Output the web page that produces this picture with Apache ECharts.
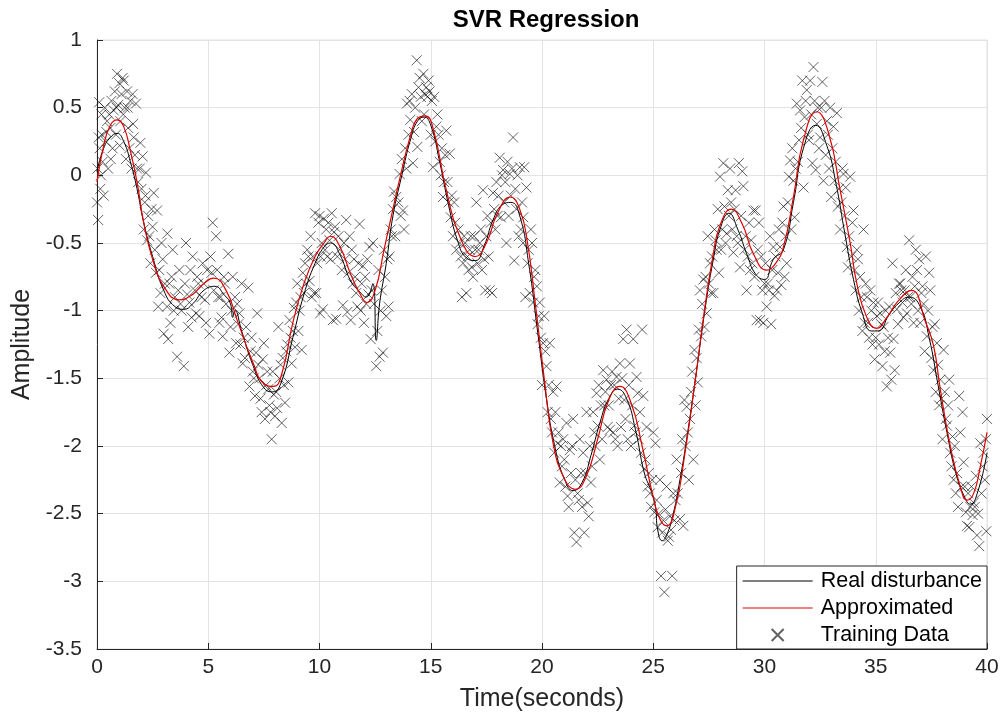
<!DOCTYPE html>
<html>
<head>
<meta charset="utf-8">
<script src="https://cdn.jsdelivr.net/npm/echarts@6/dist/echarts.min.js"></script>
<style>html,body{margin:0;padding:0;background:#fff}#c{width:1003px;height:726px}</style>
</head>
<body>
<div id="c"></div>
<script>
// ---- data ----
const xTicks = [0,5,10,15,20,25,30,35,40];
const yTicks = [-3.5,-3,-2.5,-2,-1.5,-1,-0.5,0,0.5,1];

const realT = [0,0.3,0.6,0.9,1.2,1.5,1.8,2.1,2.5,3.0,3.5,3.9,4.3,4.8,5.3,5.7,6.0,6.1,6.2,6.5,7.0,7.5,7.9,8.3,8.8,9.3,9.8,10.2,10.5,10.9,11.4,11.8,12.1,12.4,12.55,12.7,13.0,13.3,13.7,14.1,14.4,14.7,15.0,15.4,15.8,16.2,16.6,17.0,17.4,17.8,18.2,18.6,19.0,19.4,19.8,20.2,20.6,21.0,21.4,21.8,22.2,22.6,23.0,23.4,23.8,24.2,24.6,24.9,25.1,25.2,25.4,25.6,25.9,26.2,26.5,26.9,27.3,27.7,28.0,28.4,28.8,29.2,29.6,30.0,30.4,30.85,31.3,31.75,32.3,32.8,33.2,33.6,34.0,34.4,34.8,35.1,35.6,36.0,36.5,37.0,37.4,37.8,38.2,38.6,39.0,39.25,39.6,40.0];
const realY = [0.03,0.2,0.28,0.31,0.25,0.1,-0.1,-0.35,-0.6,-0.85,-0.97,-0.99,-0.95,-0.85,-0.82,-0.88,-0.95,-1.05,-1.0,-1.15,-1.4,-1.57,-1.6,-1.52,-1.2,-0.88,-0.65,-0.53,-0.5,-0.58,-0.78,-0.86,-0.9,-0.8,-1.22,-0.95,-0.65,-0.3,0.0,0.27,0.4,0.43,0.37,0.1,-0.22,-0.48,-0.61,-0.63,-0.52,-0.33,-0.22,-0.2,-0.3,-0.65,-1.15,-1.65,-2.02,-2.24,-2.33,-2.27,-2.07,-1.83,-1.65,-1.58,-1.65,-1.88,-2.2,-2.33,-2.45,-2.62,-2.7,-2.66,-2.5,-2.25,-1.95,-1.5,-1.02,-0.62,-0.4,-0.28,-0.4,-0.58,-0.73,-0.77,-0.62,-0.55,-0.2,0.2,0.37,0.22,-0.05,-0.42,-0.77,-1.02,-1.15,-1.15,-1.03,-0.95,-0.9,-0.97,-1.2,-1.55,-1.9,-2.2,-2.38,-2.43,-2.33,-2.05];

const approxT = [0,0.3,0.6,0.9,1.2,1.5,1.8,2.1,2.5,3.0,3.7,4.3,4.8,5.25,5.8,6.3,7.0,7.5,7.93,8.3,8.8,9.3,9.8,10.2,10.5,10.9,11.4,11.8,12.13,12.5,12.9,13.3,13.6,14.1,14.4,14.75,15.1,15.7,16.3,17.0,17.5,18.0,18.57,19.0,19.35,19.7,20.1,20.5,21.0,21.5,22.0,22.5,23.0,23.5,24.0,24.5,25.0,25.3,25.6,26.0,26.4,26.9,27.3,27.7,28.0,28.5,29.0,29.5,30.1,30.5,30.85,31.3,31.75,32.35,32.9,33.4,33.85,34.15,34.6,35.05,35.5,36.0,36.6,37.25,37.6,37.9,38.35,38.8,39.1,39.4,39.7,40.0];
const approxY = [-0.05,0.22,0.37,0.41,0.36,0.18,-0.05,-0.35,-0.62,-0.82,-0.92,-0.88,-0.8,-0.76,-0.85,-1.07,-1.38,-1.54,-1.56,-1.47,-1.09,-0.8,-0.6,-0.5,-0.45,-0.52,-0.73,-0.87,-0.94,-0.85,-0.55,-0.25,-0.03,0.3,0.42,0.44,0.35,-0.11,-0.45,-0.6,-0.5,-0.28,-0.16,-0.25,-0.5,-0.95,-1.5,-1.98,-2.24,-2.32,-2.22,-1.95,-1.66,-1.56,-1.68,-2.0,-2.38,-2.54,-2.59,-2.45,-2.08,-1.5,-1.0,-0.58,-0.37,-0.25,-0.36,-0.58,-0.7,-0.65,-0.53,-0.16,0.26,0.47,0.3,-0.11,-0.5,-0.8,-1.05,-1.13,-1.05,-0.93,-0.85,-1.09,-1.26,-1.58,-2.0,-2.3,-2.4,-2.35,-2.15,-1.9];

const trainT = [0.0,0.02,0.05,0.08,0.1,0.12,0.15,0.2,0.22,0.25,0.3,0.35,0.4,0.45,0.5,0.55,0.6,0.65,0.7,0.75,0.8,0.85,0.9,0.95,1.0,1.05,1.1,1.15,1.2,1.25,1.3,1.35,1.4,1.45,1.5,1.55,1.6,1.65,1.7,1.75,1.8,1.85,1.95,2.0,2.05,2.1,2.15,2.2,2.25,2.3,2.4,2.45,2.55,2.6,2.7,2.75,2.8,2.85,2.9,3.0,3.05,3.15,3.16,
3.2,3.3,3.35,3.4,3.5,3.6,3.65,3.7,3.8,3.9,3.95,4.0,4.1,4.15,4.2,4.3,4.4,4.45,4.5,4.6,4.7,4.75,4.8,4.9,4.95,5.05,5.1,5.2,5.25,5.35,5.4,5.5,5.55,5.6,5.65,5.7,5.8,5.9,5.95,6.05,6.1,6.2,6.25,6.35,6.4,6.5,6.55,6.6,6.7,6.8,6.85,6.9,
7.0,7.1,7.15,7.2,7.3,7.4,7.45,7.5,7.55,7.6,7.7,7.75,7.85,7.9,8.0,8.05,8.15,8.2,8.3,8.35,8.45,8.5,8.6,8.65,8.75,8.8,8.9,8.95,9.0,9.1,9.2,9.3,9.35,9.4,9.45,9.5,9.6,9.65,9.75,9.8,9.85,9.9,9.95,
10.0,10.03,10.1,10.15,10.2,10.3,10.35,10.45,10.55,10.6,10.65,10.75,10.8,10.9,11.0,11.05,11.1,11.2,11.25,11.35,11.4,11.5,11.55,11.65,11.7,11.8,11.9,11.95,12.0,12.1,12.25,12.3,12.35,12.4,12.55,12.7,12.75,12.85,12.95,13.0,13.1,13.15,13.2,13.3,13.4,13.45,
13.6,13.65,13.75,13.8,13.85,13.93,14.0,14.08,14.15,14.2,14.3,14.37,14.4,14.45,14.55,14.6,14.67,14.75,14.8,14.9,15.0,15.05,15.1,15.15,15.25,15.3,15.4,15.5,15.55,15.7,15.75,15.85,15.9,16.0,16.05,16.15,16.25,16.35,16.4,16.45,16.55,16.6,16.7,16.8,16.9,17.0,
17.05,17.1,17.2,17.3,17.35,17.45,17.5,17.6,17.65,17.75,17.8,17.9,18.0,18.1,18.15,18.25,18.3,18.4,18.45,18.55,18.6,18.7,18.75,18.85,19.0,19.05,19.15,19.16,19.2,19.25,19.3,19.35,19.45,19.5,19.55,19.6,19.7,19.77,19.85,19.9,
20.05,20.1,20.2,20.25,20.35,20.4,20.5,20.65,20.7,20.8,20.85,21.0,21.1,21.15,21.25,21.3,21.4,21.45,21.55,21.65,21.7,21.75,21.85,21.9,22.0,22.05,22.1,22.15,22.2,22.35,22.45,22.6,22.75,22.8,22.9,22.95,23.1,23.2,23.35,23.4,23.5,23.55,23.65,23.7,23.8,23.85,23.95,24.0,
24.1,24.25,24.3,24.5,24.55,24.6,24.7,24.75,24.85,25.0,25.05,25.1,25.2,25.3,25.35,25.4,25.5,25.55,25.6,25.7,25.85,25.9,26.05,26.2,26.35,26.4,26.5,26.6,26.65,26.8,26.85,27.0,27.05,27.1,27.15,27.25,27.3,27.4,27.45,
27.55,27.6,27.7,27.8,27.85,28.0,28.05,28.15,28.2,28.3,28.35,28.5,28.6,28.7,28.75,28.85,28.9,29.0,29.05,29.2,29.3,29.35,29.45,29.5,29.6,29.65,29.75,29.8,29.9,29.95,30.1,30.15,30.25,30.3,30.4,30.45,30.55,30.7,30.75,30.85,30.9,31.0,
31.1,31.15,31.2,31.3,31.35,31.45,31.55,31.6,31.7,31.75,31.8,31.9,32.0,32.05,32.15,32.2,32.3,32.4,32.5,32.6,32.65,32.8,32.95,33.0,33.1,33.15,33.25,33.3,33.4,33.55,33.65,33.7,33.75,33.85,34.0,34.15,34.3,34.45,34.5,34.6,34.65,34.75,34.9,34.95,35.05,
35.1,35.2,35.3,35.35,35.5,35.6,35.65,35.7,35.75,35.8,35.85,35.9,35.95,36.05,36.1,36.2,36.35,36.4,36.45,36.5,36.55,36.65,36.7,36.75,36.8,36.95,37.0,37.05,37.1,37.25,37.3,37.4,37.45,37.55,37.6,37.75,37.9,38.05,38.15,38.2,38.3,38.45,38.5,38.6,38.75,38.8,38.9,38.95,39.05,39.1,39.35,39.4,39.5,39.55,39.65,39.7,39.8,39.85,39.95,39.97,40.0];
const trainY = [-0.2,0.05,-0.33,0.28,0.54,0.2,-0.1,0.45,0.3,0.1,-0.15,0.5,0.25,0.4,0.05,0.45,0.35,0.55,0.2,0.48,0.62,0.3,0.75,0.52,0.68,0.4,0.6,0.72,0.7,0.5,0.12,0.62,0.35,0.2,0.55,0.05,0.6,0.28,0.15,0.53,0.05,-0.05,0.24,-0.1,0.14,-0.4,-0.2,0.02,-0.48,-0.3,-0.65,-0.25,-0.13,-0.55,-0.26,-0.97,-0.7,-0.87,-0.5,-1.17,-0.8,-0.97,-0.43,
-1.21,-1.09,-0.75,-0.55,-0.9,-1.34,-0.85,-0.7,-1.0,-1.41,-0.8,-0.5,-1.12,-0.94,-0.7,-0.6,-0.85,-1.02,-0.75,-1.04,-0.9,-0.65,-0.8,-1.09,-0.7,-1.17,-0.6,-0.35,-0.85,-0.45,-0.7,-1.09,-0.9,-1.05,-1.19,-0.75,-0.95,-0.58,-1.31,-1.0,-0.75,-0.9,-1.24,-1.1,-1.02,-0.8,-1.39,-1.2,-1.12,-0.83,-1.56,-1.3,
-1.45,-1.63,-1.31,-1.02,-1.5,-1.75,-1.36,-1.24,-1.8,-1.55,-1.58,-1.7,-1.95,-1.45,-1.78,-1.6,-1.12,-1.5,-1.83,-1.35,-1.68,-1.3,-1.53,-1.07,-1.39,-1.15,-1.27,-0.94,-0.8,-1.0,-1.29,-0.87,-0.65,-0.8,-0.55,-0.6,-0.45,-0.9,-0.87,-0.28,-0.87,-0.65,-0.35,
-0.3,-1.02,-0.5,-0.99,-0.32,-0.4,-0.6,-0.48,-0.28,-1.07,-0.42,-1.06,-0.6,-0.55,-0.7,-0.96,-0.5,-0.33,-1.01,-0.45,-1.07,-0.8,-0.62,-0.87,-0.97,-0.36,-0.8,-0.67,-1.09,-0.95,-0.53,-1.21,-0.85,-0.5,-1.41,-1.34,-1.0,-1.31,-0.75,-1.04,-0.97,-0.6,-0.4,-0.25,-0.45,-0.16,
0.01,-0.3,-0.26,-0.4,0.2,0.53,0.3,0.41,0.6,0.09,0.5,0.85,0.21,0.65,0.58,0.4,0.75,0.6,0.65,0.7,0.3,0.55,0.06,0.58,0.36,0.45,0.1,0.2,-0.16,0.33,-0.05,0.16,-0.31,-0.45,-0.2,-0.55,-0.4,-0.6,-0.9,-0.65,-0.5,-0.87,-0.7,-0.45,-0.75,-0.55,
-0.2,-0.65,-0.5,-0.7,-0.11,-0.85,-0.45,-0.6,-0.85,-0.87,-0.13,-0.4,-0.3,0.13,-0.31,0.04,-0.2,-0.5,0.1,0.01,-0.15,0.28,-0.63,-0.25,0.06,-0.4,-0.5,-0.31,0.06,-0.9,-0.09,-0.65,-0.87,-0.4,-0.5,-0.94,-0.7,-0.82,-1.04,-0.94,
-1.24,-1.04,-1.41,-1.75,-1.24,-1.8,-1.6,-1.56,-1.98,-2.27,-2.0,-2.1,-1.83,-2.37,-2.03,-2.2,-1.8,-2.64,-2.71,-2.4,-1.95,-2.2,-2.05,-2.64,-1.75,-2.42,-2.52,-2.0,-2.27,-1.9,-1.61,-2.1,-1.44,-1.7,-1.51,-1.86,-1.55,-1.9,-1.49,-2.0,-1.39,-1.86,-1.21,-1.66,-1.14,-1.95,-1.39,-2.0,
-1.21,-1.49,-1.61,-1.14,-1.63,-2.17,-1.86,-2.3,-2.35,-1.9,-2.49,-1.98,-2.6,-2.25,-2.96,-2.64,-3.08,-2.47,-2.3,-2.67,-2.96,-2.35,-2.1,-2.54,-2.59,-1.66,-1.71,-2.25,-1.8,-2.1,-1.29,-1.53,-1.14,-0.85,-1.19,-0.77,-1.12,-1.02,-0.45,
-0.65,-0.87,-0.87,-0.48,-0.55,-0.01,-0.55,0.09,-0.23,-0.43,-0.11,-0.2,-0.57,-0.11,-0.45,0.09,-0.68,0.03,-0.08,-0.85,-0.35,-0.7,-0.65,-0.26,-0.26,-1.07,-0.35,-1.07,-0.85,-1.09,-0.97,-0.8,-0.45,-1.1,-0.53,-0.89,-0.85,-0.53,-0.81,-0.23,-0.75,-0.65,
-0.01,0.11,-0.4,-0.04,-0.31,0.53,0.26,0.48,0.7,-0.09,0.43,0.63,0.26,0.7,0.09,0.8,0.04,0.5,0.28,0.69,-0.04,0.4,0.5,-0.16,0.36,-0.04,0.46,-0.23,-0.4,0.01,-0.09,-0.53,-0.68,-0.01,-0.26,-0.55,-0.75,-0.4,-1.09,-0.9,-1.09,-0.85,-0.94,-1.36,-1.04,
-0.94,-1.02,-1.41,-1.12,-1.56,-0.97,-1.31,-1.51,-0.65,-1.21,-1.44,-0.87,-0.99,-0.8,-0.8,-0.94,-0.7,-1.02,-0.9,-0.48,-0.9,-0.75,-1.09,-0.82,-0.55,-0.62,-1.09,-0.87,-0.82,-0.6,-1.19,-0.72,-0.85,-1.12,-1.44,-1.24,-1.51,-1.29,-1.8,-1.85,-1.51,-1.93,-2.25,-2.35,-1.63,-1.9,-1.75,-2.12,-2.49,-2.59,-2.51,-2.42,-2.22,-2.66,-2.74,-1.98,-2.15,-2.05,-1.95,-2.63,-1.8];

// more training samples lying close to the curves
const trainNear = [[0.18,0.0],[0.42,0.32],[0.62,0.12],[0.88,0.5],[1.02,0.22],[1.18,0.45],[1.38,0.5],[1.62,0.38],[1.92,0.05],[2.18,-0.15],[2.35,-0.45],[2.5,-0.38],[2.65,-0.72],[2.95,-0.62],
[3.25,-0.8],[3.45,-1.0],[3.75,-0.95],[4.05,-0.88],[4.25,-1.05],[4.55,-0.8],[4.85,-0.92],[5.15,-0.72],[5.45,-0.9],[5.75,-0.8],[6.0,-1.12],[6.3,-0.95],[6.45,-1.25],[6.65,-1.35],[6.95,-1.2],
[7.05,-1.5],[7.25,-1.4],[7.35,-1.65],[7.65,-1.45],[7.8,-1.75],[7.95,-1.62],[8.1,-1.72],[8.25,-1.4],[8.4,-1.55],[8.55,-1.25],[8.7,-1.2],[8.85,-0.98],[9.05,-1.15],[9.15,-0.9],[9.25,-0.72],[9.55,-0.78],[9.7,-0.6],
[10.05,-0.6],[10.25,-0.55],[10.4,-0.35],[10.5,-0.62],[10.7,-0.38],[10.85,-0.45],[11.15,-0.62],[11.3,-0.72],[11.45,-0.55],[11.6,-0.75],[11.75,-0.65],[11.85,-1.0],[12.05,-0.75],[12.15,-0.62],[12.2,-0.88],[12.45,-0.95],[12.6,-1.15],[12.65,-0.7],[12.8,-0.85],[12.9,-0.55],[13.05,-0.62],[13.25,-0.45],[13.35,-0.12],
[13.55,-0.2],[13.7,0.12],[13.9,0.05],[14.05,0.55],[14.25,0.32],[14.5,0.72],[14.7,0.45],[14.85,0.58],[14.95,0.62],[15.2,0.25],[15.35,0.3],[15.45,0.0],[15.6,-0.05],[15.65,0.15],[15.8,-0.2],[15.95,-0.15],[16.1,-0.35],[16.3,-0.5],[16.5,-0.45],[16.65,-0.6],[16.75,-0.55],[16.85,-0.68],[16.95,-0.45],
[17.15,-0.55],[17.25,-0.4],[17.4,-0.62],[17.55,-0.3],[17.7,-0.35],[17.85,-0.25],[17.95,-0.05],[18.05,-0.15],[18.2,0.0],[18.35,-0.05],[18.5,-0.3],[18.65,0.05],[18.8,-0.1],[18.9,0.0],[18.95,-0.45],[19.1,-0.2],[19.4,-0.55],[19.65,-0.75],[19.8,-1.1],[19.95,-1.2],
[20.0,-1.55],[20.15,-1.3],[20.3,-1.55],[20.45,-1.9],[20.55,-2.05],[20.6,-1.75],[20.75,-1.9],[20.9,-2.15],[20.95,-1.95],[21.05,-2.3],[21.2,-2.45],[21.35,-2.0],[21.5,-2.25],[21.6,-2.35],[21.8,-2.45],[21.95,-2.2],[22.25,-2.15],[22.3,-1.75],[22.4,-2.0],[22.5,-1.85],[22.55,-1.55],[22.65,-1.7],[22.7,-1.95],[22.85,-1.6],[23.0,-1.7],[23.05,-1.88],[23.15,-1.45],[23.25,-1.55],[23.3,-1.95],[23.45,-1.65],[23.6,-1.5],[23.75,-1.8],[23.9,-1.55],
[24.05,-1.7],[24.15,-1.85],[24.2,-1.9],[24.35,-1.95],[24.4,-1.75],[24.45,-2.05],[24.65,-2.1],[24.8,-2.2],[24.9,-2.45],[24.95,-2.25],[25.15,-2.4],[25.25,-2.5],[25.45,-2.55],[25.65,-2.7],[25.75,-2.52],[25.8,-2.62],[25.95,-2.55],[26.0,-2.4],[26.1,-2.35],[26.25,-2.2],[26.3,-1.95],[26.45,-2.0],[26.55,-1.9],[26.7,-1.6],[26.75,-1.45],[26.9,-1.7],[26.95,-1.35],[27.2,-0.95],[27.35,-0.75],
[27.5,-0.8],[27.65,-0.6],[27.75,-0.4],[27.9,-0.25],[27.95,-0.72],[28.1,-0.4],[28.25,-0.5],[28.4,-0.3],[28.45,0.05],[28.55,-0.4],[28.65,-0.25],[28.8,-0.5],[28.95,-0.3],[29.1,-0.55],[29.15,-0.45],[29.25,-0.6],[29.4,-0.48],[29.55,-0.75],[29.7,-0.55],[29.85,-0.6],[30.0,-0.8],[30.05,-0.65],[30.2,-0.85],[30.35,-0.7],[30.5,-0.6],[30.6,-0.72],[30.65,-0.4],[30.8,-0.35],[30.95,-0.45],
[31.05,-0.2],[31.25,0.2],[31.4,0.05],[31.5,0.1],[31.65,0.35],[31.85,0.55],[31.95,0.3],[32.1,0.45],[32.25,0.55],[32.35,0.38],[32.45,0.2],[32.55,0.5],[32.7,0.55],[32.75,0.15],[32.85,0.3],[32.9,0.05],[33.05,0.2],[33.2,0.1],[33.35,-0.1],[33.45,-0.2],[33.5,0.05],[33.6,-0.3],[33.8,-0.45],[33.9,-0.6],[33.95,-0.35],[34.05,-0.7],[34.1,-0.85],[34.2,-0.62],[34.25,-1.0],[34.35,-0.9],[34.4,-1.15],[34.55,-0.8],[34.7,-1.2],[34.8,-1.0],[34.85,-1.25],[35.0,-1.2],
[35.15,-1.25],[35.25,-1.1],[35.4,-1.3],[35.45,-1.0],[35.55,-1.2],[36.0,-1.1],[36.15,-0.85],[36.25,-1.05],[36.3,-0.85],[36.6,-0.95],[36.85,-0.7],[36.9,-1.0],[37.15,-0.95],[37.2,-1.3],[37.35,-1.0],[37.5,-1.35],[37.65,-1.1],[37.7,-1.6],[37.8,-1.4],[37.85,-1.7],[37.95,-1.65],[38.0,-1.95],[38.1,-1.6],[38.25,-1.7],[38.35,-2.05],[38.4,-2.15],[38.55,-2.0],[38.65,-2.2],[38.7,-2.45],[38.85,-2.3],[39.0,-2.3],[39.15,-2.35],[39.2,-2.6],[39.25,-2.45],[39.3,-2.3],[39.45,-2.45],[39.6,-2.5],[39.75,-2.35],[39.9,-2.25]];

// ---- chart ----
const zip = (a, b) => a.map((v, i) => [v, b[i]]);
const font = "'Liberation Sans', Arial, Helvetica, sans-serif";
const ink = '#262626';
const lineIcon = 'path://M0,0H70V1.2H0Z';
const chart = echarts.init(document.getElementById('c'), null, {renderer: 'canvas'});
chart.setOption({
  animation: false,
  backgroundColor: '#fff',
  title: {
    text: 'SVR Regression', left: 541, top: 3, textAlign: 'center',
    textStyle: {fontFamily: font, fontSize: 24, fontWeight: 'bold', color: '#000'}
  },
  grid: {left: 97, right: 16, top: 40, bottom: 77, show: true, borderColor: '#dedede', borderWidth: 1},
  xAxis: {
    type: 'value', min: 0, max: 40, interval: 5,
    name: 'Time(seconds)', nameLocation: 'middle', nameGap: 38,
    nameTextStyle: {fontFamily: font, fontSize: 25, color: ink},
    axisLine: {onZero: false, lineStyle: {color: ink, width: 1}},
    axisTick: {inside: true, length: 6, lineStyle: {color: ink}},
    axisLabel: {fontFamily: font, fontSize: 21, color: ink, margin: 8,
      formatter: v => xTicks.includes(v) ? String(v) : ''},
    splitLine: {show: true, lineStyle: {color: '#e3e3e3', width: 1}}
  },
  yAxis: {
    type: 'value', min: -3.5, max: 1, interval: 0.5,
    name: 'Amplitude', nameLocation: 'middle', nameGap: 62, nameRotate: 90,
    nameTextStyle: {fontFamily: font, fontSize: 25, color: ink},
    axisLine: {onZero: false, lineStyle: {color: ink, width: 1}},
    axisTick: {inside: true, length: 6, lineStyle: {color: ink}},
    axisLabel: {fontFamily: font, fontSize: 21, color: ink, margin: 15,
      formatter: v => yTicks.some(t => Math.abs(t - v) < 1e-9) ? String(+v.toFixed(1)) : ''},
    splitLine: {show: true, lineStyle: {color: '#e3e3e3', width: 1}}
  },
  legend: {
    orient: 'vertical', right: 16, bottom: 77,
    backgroundColor: '#fff', borderColor: ink, borderWidth: 1, borderRadius: 0,
    padding: [4, 5, 3, 6], itemGap: 5, itemWidth: 70, itemHeight: 12,
    textStyle: {fontFamily: font, fontSize: 21.5, color: '#000', padding: [0, 0, 0, 3]},
    data: [
      {name: 'Real disturbance', icon: lineIcon, itemStyle: {color: '#000'}},
      {name: 'Approximated', icon: lineIcon, itemStyle: {color: '#e00000'}},
      {name: 'Training Data'}
    ]
  },
  series: [
    {
      name: 'Training Data', type: 'scatter', z: 1, silent: true,
      symbol: 'path://M0,0L10,10M10,0L0,10', symbolSize: 10,
      itemStyle: {color: 'rgba(0,0,0,0)', borderColor: 'rgba(10,10,10,0.8)', borderWidth: 1},
      data: zip(trainT, trainY).concat(trainNear)
    },
    {
      name: 'Real disturbance', type: 'line', z: 2, silent: true, showSymbol: false, symbol: 'none',
      smooth: 0.5,
      lineStyle: {color: '#000', width: 1}, itemStyle: {color: '#000'},
      data: zip(realT, realY)
    },
    {
      name: 'Approximated', type: 'line', z: 3, silent: true, showSymbol: false, symbol: 'none',
      smooth: 0.5,
      lineStyle: {color: '#e00000', width: 1.2}, itemStyle: {color: '#e00000'},
      data: zip(approxT, approxY)
    }
  ]
});
</script>
</body>
</html>
